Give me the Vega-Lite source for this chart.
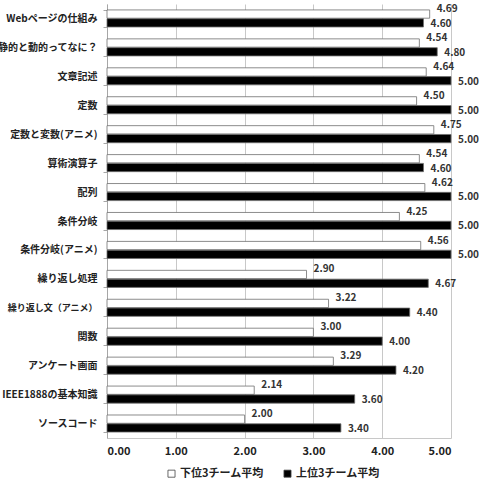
{
  "$schema": "https://vega.github.io/schema/vega-lite/v6.json",
  "autosize": {"type": "none"},
  "width": 344,
  "height": 434,
  "padding": {"left": 107, "top": 4, "right": 28, "bottom": 41},
  "background": "white",
  "config": {
    "font": "Noto Sans CJK JP",
    "view": {"stroke": null}
  },
  "data": {
    "values": [
      {"topic": "Webページの仕組み", "series": "下位3チーム平均", "value": 4.69},
      {"topic": "Webページの仕組み", "series": "上位3チーム平均", "value": 4.60},
      {"topic": "静的と動的ってなに？", "series": "下位3チーム平均", "value": 4.54},
      {"topic": "静的と動的ってなに？", "series": "上位3チーム平均", "value": 4.80},
      {"topic": "文章記述", "series": "下位3チーム平均", "value": 4.64},
      {"topic": "文章記述", "series": "上位3チーム平均", "value": 5.00},
      {"topic": "定数", "series": "下位3チーム平均", "value": 4.50},
      {"topic": "定数", "series": "上位3チーム平均", "value": 5.00},
      {"topic": "定数と変数(アニメ)", "series": "下位3チーム平均", "value": 4.75},
      {"topic": "定数と変数(アニメ)", "series": "上位3チーム平均", "value": 5.00},
      {"topic": "算術演算子", "series": "下位3チーム平均", "value": 4.54},
      {"topic": "算術演算子", "series": "上位3チーム平均", "value": 4.60},
      {"topic": "配列", "series": "下位3チーム平均", "value": 4.62},
      {"topic": "配列", "series": "上位3チーム平均", "value": 5.00},
      {"topic": "条件分岐", "series": "下位3チーム平均", "value": 4.25},
      {"topic": "条件分岐", "series": "上位3チーム平均", "value": 5.00},
      {"topic": "条件分岐(アニメ)", "series": "下位3チーム平均", "value": 4.56},
      {"topic": "条件分岐(アニメ)", "series": "上位3チーム平均", "value": 5.00},
      {"topic": "繰り返し処理", "series": "下位3チーム平均", "value": 2.90},
      {"topic": "繰り返し処理", "series": "上位3チーム平均", "value": 4.67},
      {"topic": "繰り返し文（アニメ）", "series": "下位3チーム平均", "value": 3.22},
      {"topic": "繰り返し文（アニメ）", "series": "上位3チーム平均", "value": 4.40},
      {"topic": "関数", "series": "下位3チーム平均", "value": 3.00},
      {"topic": "関数", "series": "上位3チーム平均", "value": 4.00},
      {"topic": "アンケート画面", "series": "下位3チーム平均", "value": 3.29},
      {"topic": "アンケート画面", "series": "上位3チーム平均", "value": 4.20},
      {"topic": "IEEE1888の基本知識", "series": "下位3チーム平均", "value": 2.14},
      {"topic": "IEEE1888の基本知識", "series": "上位3チーム平均", "value": 3.60},
      {"topic": "ソースコード", "series": "下位3チーム平均", "value": 2.00},
      {"topic": "ソースコード", "series": "上位3チーム平均", "value": 3.40}
    ]
  },
  "encoding": {
    "y": {
      "field": "topic", "type": "nominal", "sort": null, "title": null,
      "scale": {"paddingInner": 0.41, "paddingOuter": 0.205},
      "axis": {
        "tickBand": "extent", "domainColor": "#a6a6a6", "tickColor": "#a6a6a6", "tickSize": 4,
        "labelFontSize": {"condition": {"test": "datum.value === '繰り返し文（アニメ）'", "value": 9}, "value": 10},
        "labelFontWeight": "bold", "labelColor": "#222222", "labelPadding": 6,
        "labelLimit": 0
      }
    },
    "yOffset": {
      "field": "series", "type": "nominal",
      "sort": ["下位3チーム平均", "上位3チーム平均"],
      "scale": {"paddingInner": 0.06}
    },
    "x": {
      "field": "value", "type": "quantitative", "title": null,
      "scale": {"domain": [0, 5], "nice": false},
      "axis": {
        "values": [0, 1, 2, 3, 4, 5], "format": ".2f", "grid": true, "gridColor": "#c8c8c8",
        "domainColor": "#c8c8c8", "ticks": false, "labelPadding": 7,
        "labelFontSize": 11, "labelFontWeight": "bold", "labelColor": "#222222"
      }
    }
  },
  "layer": [
    {
      "mark": {"type": "bar", "stroke": "#6f6f6f", "strokeWidth": 0.8},
      "encoding": {
        "color": {
          "field": "series", "type": "nominal",
          "scale": {"domain": ["下位3チーム平均", "上位3チーム平均"], "range": ["#ffffff", "#000000"]},
          "legend": {
            "title": null, "orient": "none", "direction": "horizontal",
            "legendX": 59, "legendY": 464, "symbolType": "square", "symbolSize": 50,
            "symbolStrokeColor": "#444444", "symbolStrokeWidth": 0.8,
            "labelFontSize": 11, "labelFontWeight": "bold", "labelColor": "#222222",
            "columnPadding": 18, "labelOffset": 3
          }
        }
      }
    },
    {
      "transform": [{"filter": "datum.series === '下位3チーム平均'"}],
      "mark": {"type": "text", "align": "left", "baseline": "middle", "dx": 7, "dy": -5, "fontSize": 10, "fontWeight": "bold", "color": "#333333"},
      "encoding": {"text": {"field": "value", "type": "quantitative", "format": ".2f"}}
    },
    {
      "transform": [{"filter": "datum.series === '上位3チーム平均'"}],
      "mark": {"type": "text", "align": "left", "baseline": "middle", "dx": 7, "dy": 1, "fontSize": 10, "fontWeight": "bold", "color": "#333333"},
      "encoding": {"text": {"field": "value", "type": "quantitative", "format": ".2f"}}
    }
  ]
}
